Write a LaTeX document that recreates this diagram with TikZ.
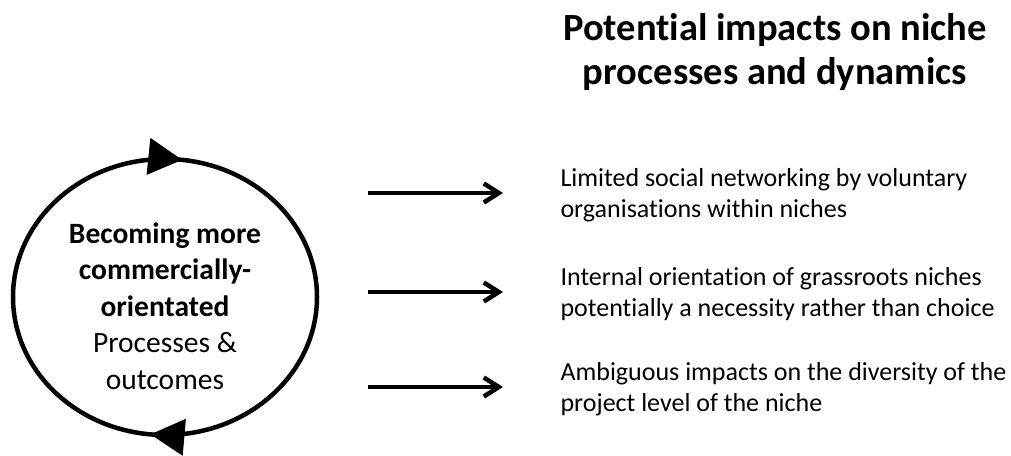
\documentclass[tikz,border=0pt]{standalone}
\usepackage{fontspec}
\setmainfont{Carlito}[Ligatures=NoCommon]
\usetikzlibrary{calc,decorations.markings,arrows.meta}

\begin{document}
\begin{tikzpicture}[x=1pt,y=-1pt,>={Straight Barb[length=15pt,width=19pt]},font=\fontsize{26}{31}\selectfont]
                \useasboundingbox (0,0) rectangle (1011,455);
                \coordinate (c) at (165,297);
                \draw[line width=4.5pt,postaction={decorate},decoration={markings,
                    mark=at position 0.266 with {\arrow{Triangle[length=34pt,width=36pt]}},
                    mark=at position 0.769 with {\arrow{Triangle[length=34pt,width=36pt]}}}]
                    (c) ellipse [x radius=152, y radius=138];
                \node[align=center,font=\fontsize{29.5}{36.5}\selectfont] (core) at (165,306) {\textbf{Becoming more}\\\textbf{commercially-}\\\textbf{orientated}\\Processes \&\\outcomes};
                \node[align=center,font=\bfseries\fontsize{38.5}{44}\selectfont] (title) at (775,52) {Potential impacts on niche\\processes and dynamics};
                \coordinate (s1) at (368,193);
                \coordinate (s2) at (368,292);
                \coordinate (s3) at (368,387);
                \node[anchor=west,align=left] (imp1) at (557,195) {Limited social networking by voluntary\\organisations within niches};
                \node[anchor=west,align=left] (imp2) at (557,294) {Internal orientation of grassroots niches\\potentially a necessity rather than choice};
                \node[anchor=west,align=left] (imp3) at (557,389) {Ambiguous impacts on the diversity of the\\project level of the niche};
                \draw[->,line width=4.5pt] (s1) -- ($(imp1.west)+(-54,-2)$);
                \draw[->,line width=4.5pt] (s2) -- ($(imp2.west)+(-54,-2)$);
                \draw[->,line width=4.5pt] (s3) -- ($(imp3.west)+(-54,-2)$);
            \end{tikzpicture}
\end{document}
